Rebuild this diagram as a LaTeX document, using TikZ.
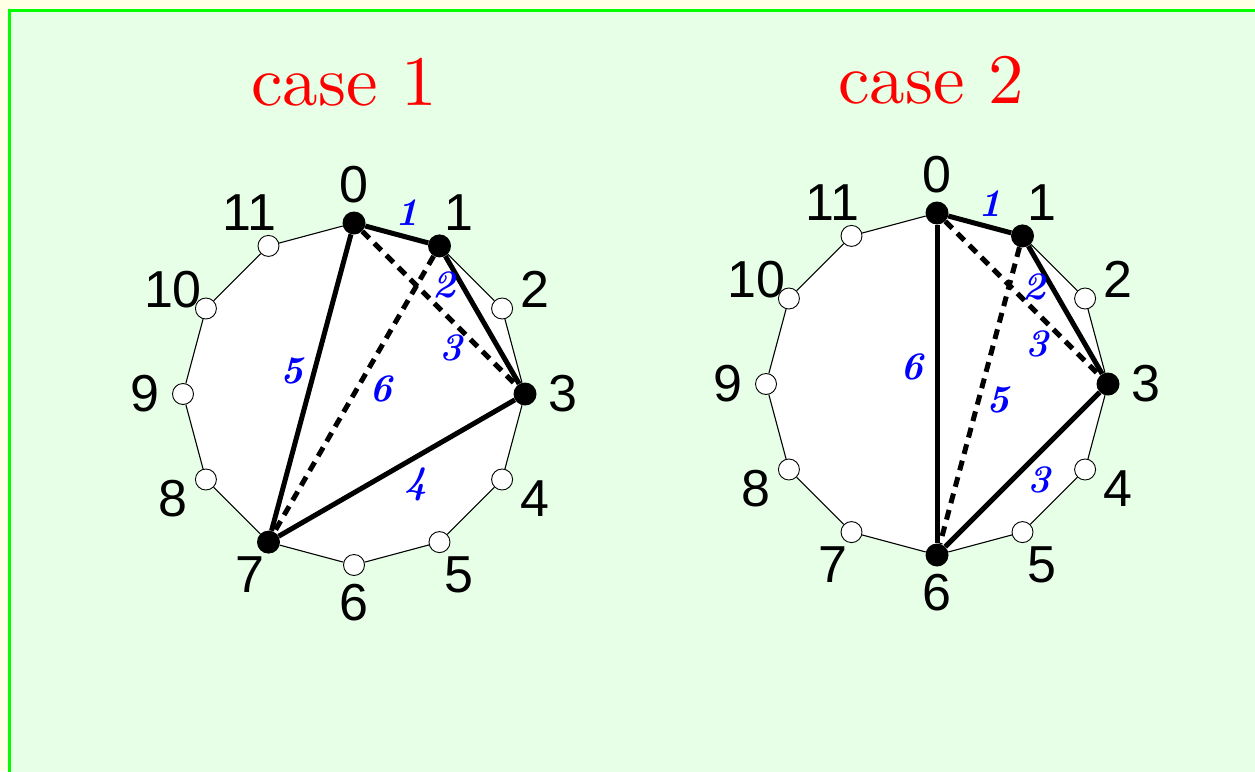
\documentclass[tikz,border=0pt]{standalone}
\usepackage{fontspec}
\newfontfamily\labfont{Liberation Sans}
\newfontfamily\titlefont{lmroman10-regular}[Extension=.otf]
\newfontfamily\edgefont{lmroman10-bolditalic}[Extension=.otf]
\definecolor{outerbg}{RGB}{255,255,230}
\definecolor{innerbg}{RGB}{230,255,230}
\definecolor{framegreen}{RGB}{0,255,0}
\pgfdeclarelayer{bg}
\pgfsetlayers{bg,main}
\begin{document}
\begin{tikzpicture}[x=1pt,y=1pt,
  vert/.style={circle,draw=black,fill=white,line width=0.9pt,minimum size=21pt,inner sep=0pt},
  hit/.style={circle,fill=black,minimum size=23pt,inner sep=0pt},
  vlab/.style={font=\labfont\fontsize{52}{52}\selectfont,inner sep=0pt},
  elab/.style={font=\edgefont\fontsize{39}{39}\selectfont,text=blue,inner sep=0pt},
  side/.style={line width=1.1pt},
  solidedge/.style={line width=5pt},
  dashedge/.style={line width=5pt,dash pattern=on 10pt off 7pt},
  title/.style={font=\titlefont\fontsize{71}{71}\selectfont,text=red,anchor=base,inner sep=0pt}]
\useasboundingbox (0,0) rectangle (1255,-771);
\begin{pgfonlayer}{bg}
  \fill[outerbg] (0,0) rectangle (1255,-771);
  \draw[framegreen,fill=innerbg,line width=3pt] (9.5,-10) rectangle (1275,-790);
\end{pgfonlayer}

% titles
\node[title] (T1) at (344,-105) {case 1};
\node[title] (T2) at (931,-103) {case 2};

% ---------- case 1 ----------
\foreach \k/\s in {0/hit,1/hit,2/vert,3/hit,4/vert,5/vert,6/vert,7/hit,8/vert,9/vert,10/vert,11/vert}{
  \pgfmathsetmacro\ang{90-30*\k}
  \node[\s] (A\k) at ([shift={(\ang:171)}]354,-394) {};
  \node[vlab] (LA\k) at ([shift={(\ang:209)}]354,-394) {\k};
}
\begin{pgfonlayer}{bg}
  \fill[white] (A0.center) -- (A1.center) -- (A2.center) -- (A3.center) -- (A4.center) -- (A5.center) -- (A6.center) -- (A7.center) -- (A8.center) -- (A9.center) -- (A10.center) -- (A11.center) -- cycle;
\end{pgfonlayer}
\foreach \i/\j in {0/1,1/2,2/3,3/4,4/5,5/6,6/7,7/8,8/9,9/10,10/11,11/0}{
  \draw[side] (A\i) -- (A\j);
}
\draw[solidedge] (A0) -- (A1);
\draw[solidedge] (A1) -- (A3);
\draw[dashedge] (A0) -- (A3);
\draw[solidedge] (A3) -- (A7);
\draw[solidedge] (A0) -- (A7);
\draw[dashedge] (A1) -- (A7);
\node[elab] (EA1) at (407,-213) {1};
\node[elab] (EA2) at (444,-285) {2};
\node[elab] (EA3) at (451,-348) {3};
\node[elab] (EA4) at (416,-484) {4};
\node[elab] (EA5) at (292,-371) {5};
\node[elab] (EA6) at (381,-389) {6};

% ---------- case 2 ----------
\foreach \k/\s in {0/hit,1/hit,2/vert,3/hit,4/vert,5/vert,6/hit,7/vert,8/vert,9/vert,10/vert,11/vert}{
  \pgfmathsetmacro\ang{90-30*\k}
  \node[\s] (B\k) at ([shift={(\ang:171)}]937,-384) {};
  \node[vlab] (LB\k) at ([shift={(\ang:209)}]937,-384) {\k};
}
\begin{pgfonlayer}{bg}
  \fill[white] (B0.center) -- (B1.center) -- (B2.center) -- (B3.center) -- (B4.center) -- (B5.center) -- (B6.center) -- (B7.center) -- (B8.center) -- (B9.center) -- (B10.center) -- (B11.center) -- cycle;
\end{pgfonlayer}
\foreach \i/\j in {0/1,1/2,2/3,3/4,4/5,5/6,6/7,7/8,8/9,9/10,10/11,11/0}{
  \draw[side] (B\i) -- (B\j);
}
\draw[solidedge] (B0) -- (B1);
\draw[solidedge] (B1) -- (B3);
\draw[dashedge] (B0) -- (B3);
\draw[solidedge] (B3) -- (B6);
\draw[dashedge] (B1) -- (B6);
\draw[solidedge] (B0) -- (B6);
\node[elab] (EB1) at (990,-204) {1};
\node[elab] (EB2) at (1034,-287) {2};
\node[elab] (EB3) at (1037,-344) {3};
\node[elab] (EB4) at (1039,-480) {3};
\node[elab] (EB5) at (998,-400) {5};
\node[elab] (EB6) at (912,-367) {6};
\end{tikzpicture}
\end{document}
